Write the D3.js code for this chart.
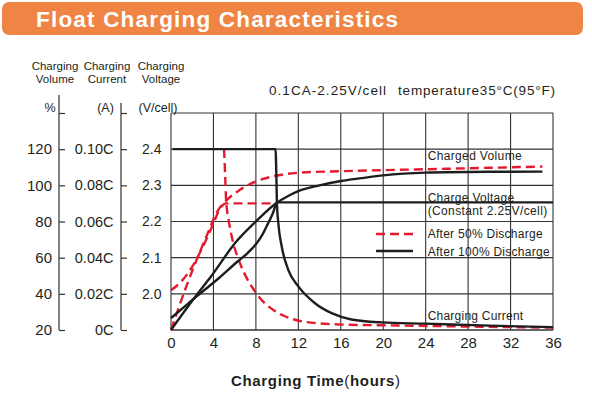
<!DOCTYPE html>
<html>
<head>
<meta charset="utf-8">
<script src="https://cdn.jsdelivr.net/npm/d3@7"></script>
<style>
  body { margin: 0; background: #fff; }
  svg text { font-family: "Liberation Sans", Arial, sans-serif; fill: #231f20; }
</style>
</head>
<body>
<div id="chart"></div>
<script>
// tick values / labels
const hourTicks = [0, 4, 8, 12, 16, 20, 24, 28, 32, 36];
const volumeTicks = [20, 40, 60, 80, 100, 120, 140];
const currentTicks = [0, 0.02, 0.04, 0.06, 0.08, 0.10, 0.12];
const currentLabels = ['0C', '0.02C', '0.04C', '0.06C', '0.08C', '0.10C', ''];
const voltageTicks = [2.0, 2.1, 2.2, 2.3, 2.4];

// after 100% discharge (black) : [hours, value]
const volume100 = [[0, 20], [2.5, 40], [3.7, 49], [6.1, 68.5], [8, 80], [10, 90.5], [11, 94], [12, 96.8], [14, 100], [16, 102.4], [18, 104], [20, 105.5], [24, 107], [30, 107.5], [35, 107.6]];
const voltage100 = [[0, 1.933], [1.5, 1.97], [2.5, 1.995], [4.5, 2.043], [6.3, 2.09], [7.2, 2.112], [8, 2.137], [8.6, 2.163], [9.1, 2.192], [9.6, 2.223], [10, 2.253], [36, 2.253]];
const current100 = [[0.15, 0.1], [9.85, 0.1], [9.93, 0.085], [9.98, 0.0704], [10.11, 0.0593], [10.43, 0.0463], [11.05, 0.0333], [12, 0.0241], [13.57, 0.0148], [15.14, 0.0093], [17, 0.0058], [19.85, 0.0042], [24, 0.0035], [30, 0.0024], [36, 0.0016]];

// after 50% discharge (red dashed)
const volume50 = [[0, 20], [0.7, 32], [1.5, 45], [2.5, 60], [3.5, 74], [4.3, 85], [5.2, 91.5], [6.5, 97.5], [8.1, 102.4], [9.8, 105.2], [12.4, 107.1], [16, 107.8], [20, 108.4], [24, 108.9], [30, 109.7], [35, 110.4]];
const voltage50 = [[0, 2.01], [1, 2.035], [2, 2.075], [3, 2.13], [4, 2.195], [4.6, 2.235], [5.2, 2.25], [10, 2.25]];
const current50 = [[5.0, 0.1], [5.1, 0.086], [5.2, 0.0713], [5.4, 0.062], [5.72, 0.0518], [6.5, 0.037], [7.2, 0.028], [7.92, 0.0213], [8.8, 0.015], [9.64, 0.0111], [10.74, 0.0076], [12.63, 0.0045], [16.1, 0.003], [21.4, 0.0025], [28, 0.0019], [36, 0.0013]];

const width = 592, height = 399;
const plotLeft = 171, plotRight = 553, plotTop = 113, plotBottom = 330;

const svg = d3.select('#chart').append('svg')
  .attr('width', width)
  .attr('height', height);

// title banner
svg.append('rect')
  .attr('x', 2).attr('y', 2).attr('width', 581).attr('height', 33)
  .attr('rx', 7)
  .attr('fill', '#f08444');
svg.append('text')
  .attr('x', 36).attr('y', 27)
  .attr('font-size', '22.5px').attr('font-weight', 'bold')
  .attr('textLength', 362).attr('lengthAdjust', 'spacing')
  .style('fill', '#fff')
  .text('Float Charging Characteristics');

// scales
const x = d3.scaleLinear().domain([0, 36]).range([plotLeft, plotRight]);
const yVol = d3.scaleLinear().domain([20, 140]).range([plotBottom, plotTop]);
const yCur = d3.scaleLinear().domain([0, 0.12]).range([plotBottom, plotTop]);
const yVolt = d3.scaleLinear().domain([1.9, 2.5]).range([plotBottom, plotTop]);

// grid
const grid = svg.append('g').attr('stroke', '#333').attr('stroke-width', 1.1);
grid.selectAll('.vg').data(hourTicks).enter().append('line')
  .attr('x1', d => x(d)).attr('x2', d => x(d))
  .attr('y1', plotTop).attr('y2', plotBottom);
grid.selectAll('.hg').data(volumeTicks).enter().append('line')
  .attr('x1', plotLeft).attr('x2', plotRight)
  .attr('y1', d => yVol(d)).attr('y2', d => yVol(d));
grid.append('line').attr('x1', plotLeft).attr('x2', plotRight).attr('y1', plotBottom).attr('y2', plotBottom);

// x axis labels
const xAxis = svg.append('g')
  .attr('transform', `translate(0,${plotBottom})`)
  .call(d3.axisBottom(x).tickValues(hourTicks).tickSize(0).tickPadding(7));
xAxis.select('.domain').remove();
xAxis.selectAll('text').attr('font-size', '15px').style('font-family', null);

// volume axis
const volAxis = svg.append('g')
  .attr('transform', 'translate(59,0)')
  .call(d3.axisLeft(yVol).tickValues(volumeTicks).tickSize(-6).tickSizeOuter(0).tickPadding(7)
    .tickFormat(d => d === 140 ? '' : d));
volAxis.select('.domain').remove();
volAxis.append('line').attr('x1', 0).attr('x2', 0).attr('y1', 95).attr('y2', plotBottom).attr('stroke', '#333').attr('stroke-width', 1.2);
volAxis.selectAll('.tick line').attr('stroke', '#333').attr('stroke-width', 1.2);
volAxis.selectAll('text').attr('font-size', '15px').style('font-family', null);

// current axis
const curAxis = svg.append('g')
  .attr('transform', 'translate(121,0)')
  .call(d3.axisLeft(yCur).tickValues(currentTicks).tickSize(-6).tickSizeOuter(0).tickPadding(7.5)
    .tickFormat((d, i) => currentLabels[i]));
curAxis.select('.domain').remove();
curAxis.append('line').attr('x1', 0).attr('x2', 0).attr('y1', 103).attr('y2', plotBottom).attr('stroke', '#333').attr('stroke-width', 1.2);
curAxis.selectAll('.tick line').attr('stroke', '#333').attr('stroke-width', 1.2);
curAxis.selectAll('text').attr('font-size', '14.5px').style('font-family', null);

// voltage axis
const voltAxis = svg.append('g')
  .attr('transform', `translate(${plotLeft},0)`)
  .call(d3.axisLeft(yVolt).tickValues(voltageTicks).tickSize(0).tickPadding(9.5).tickFormat(d3.format('.1f')));
voltAxis.select('.domain').remove();
voltAxis.selectAll('text').attr('font-size', '14px').style('font-family', null);

// axis headers
const headers = [
  { cx: 55, lines: ['Charging', 'Volume'] },
  { cx: 107, lines: ['Charging', 'Current'] },
  { cx: 161, lines: ['Charging', 'Voltage'] }
];
headers.forEach(h => {
  h.lines.forEach((t, i) => {
    svg.append('text')
      .attr('x', h.cx).attr('y', 69.5 + i * 13.3)
      .attr('text-anchor', 'middle')
      .attr('font-size', '11.5px')
      .text(t);
  });
});
svg.append('text').attr('x', 50).attr('y', 112).attr('text-anchor', 'middle').attr('font-size', '12.5px').text('%');
svg.append('text').attr('x', 105.5).attr('y', 112).attr('text-anchor', 'middle').attr('font-size', '12.5px').text('(A)');
svg.append('text').attr('x', 158).attr('y', 112).attr('text-anchor', 'middle').attr('font-size', '12.5px').text('(V/cell)');

// conditions
svg.append('text').attr('x', 269).attr('y', 94.5).attr('font-size', '13.5px')
  .attr('textLength', 117).attr('lengthAdjust', 'spacing').text('0.1CA-2.25V/cell');
svg.append('text').attr('x', 398).attr('y', 94.5).attr('font-size', '13.5px')
  .attr('textLength', 157).attr('lengthAdjust', 'spacing').text('temperature35°C(95°F)');

// curves
const RED = '#e31b2f';
const BLACK = '#1e1e1e';
const line = (ys) => d3.line().x(d => x(d[0])).y(d => ys(d[1])).curve(d3.curveMonotoneX);

const series = [
  { data: volume50, ys: yVol, color: RED, dash: '9,5' },
  { data: voltage50, ys: yVolt, color: RED, dash: '9,5' },
  { data: current50, ys: yCur, color: RED, dash: '9,5' },
  { data: volume100, ys: yVol, color: BLACK, dash: null },
  { data: voltage100, ys: yVolt, color: BLACK, dash: null },
  { data: current100, ys: yCur, color: BLACK, dash: null }
];
svg.selectAll('.curve').data(series).enter().append('path')
  .attr('class', 'curve')
  .attr('fill', 'none')
  .attr('stroke', d => d.color)
  .attr('stroke-width', 2.4)
  .attr('stroke-dasharray', d => d.dash)
  .attr('d', d => line(d.ys)(d.data));

// annotations
const notes = [
  { t: 'Charged Volume', y: 160, w: 94 },
  { t: 'Charge Voltage', y: 201.5, w: 86.5 },
  { t: '(Constant 2.25V/cell)', y: 214.5, w: 119.5 },
  { t: 'After 50% Discharge', y: 237.5, w: 115 },
  { t: 'After 100% Discharge', y: 255.5, w: 122 },
  { t: 'Charging Current', y: 319.5, w: 95.5 }
];
svg.selectAll('.note').data(notes).enter().append('text')
  .attr('x', x(24) + 2).attr('y', d => d.y)
  .attr('font-size', '12px')
  .attr('textLength', d => d.w).attr('lengthAdjust', 'spacing')
  .text(d => d.t);

// legend swatches
svg.append('line').attr('x1', 376).attr('x2', 413).attr('y1', 234).attr('y2', 234)
  .attr('stroke', RED).attr('stroke-width', 2.4).attr('stroke-dasharray', '9,5');
svg.append('line').attr('x1', 376).attr('x2', 413).attr('y1', 251).attr('y2', 251)
  .attr('stroke', BLACK).attr('stroke-width', 2.4);

// x axis title
const xTitle = svg.append('text')
  .attr('x', 231).attr('y', 386)
  .attr('font-size', '15px').attr('font-weight', 'bold')
  .attr('textLength', 169).attr('lengthAdjust', 'spacing');
xTitle.append('tspan').text('Charging Time');
xTitle.append('tspan').attr('font-weight', 'normal').text('(');
xTitle.append('tspan').text('hours');
xTitle.append('tspan').attr('font-weight', 'normal').text(')');
</script>
</body>
</html>
